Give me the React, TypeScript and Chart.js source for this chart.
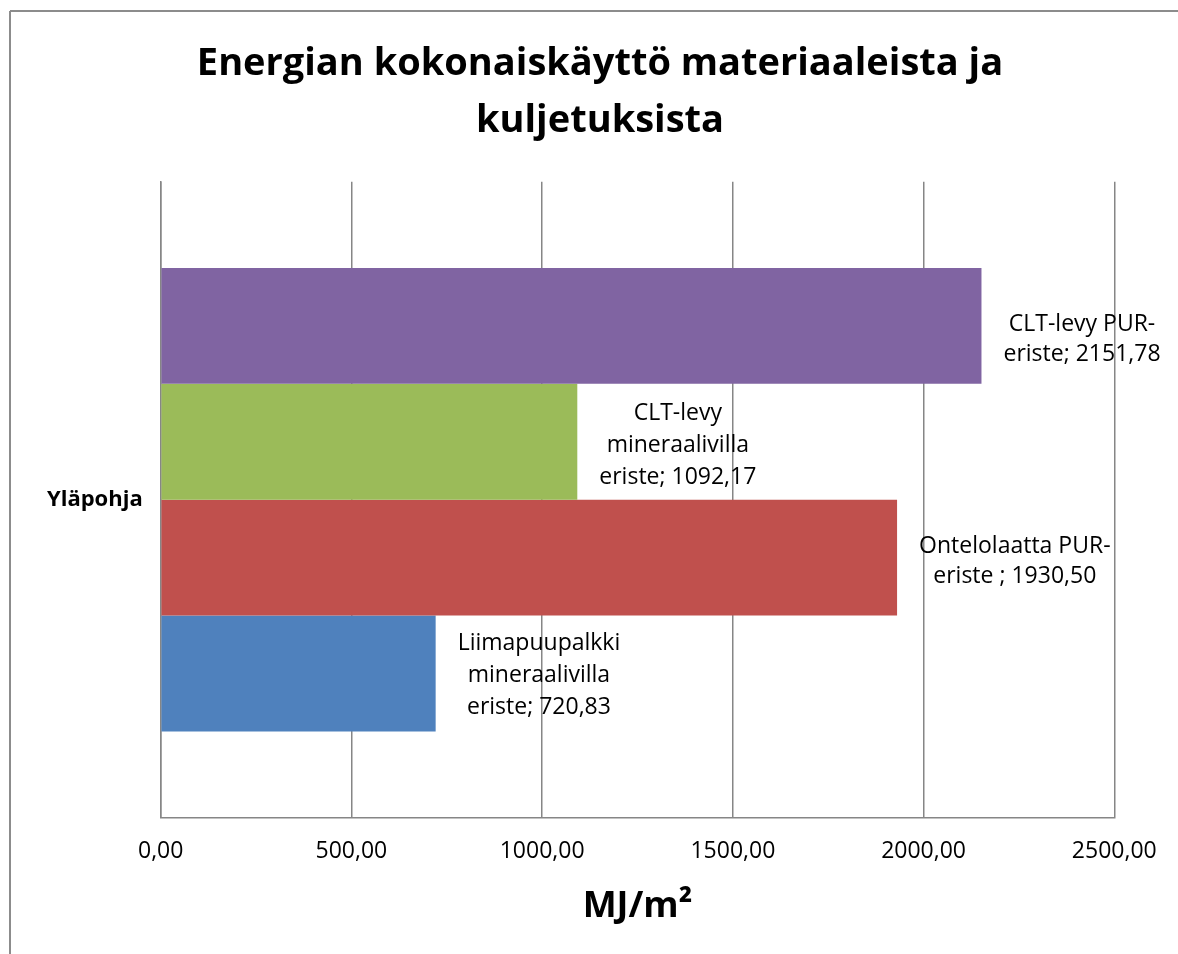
import { useEffect, useRef } from "react";
import { Chart, registerables } from "chart.js";

Chart.register(...registerables);

const FONT = "'Open Sans', sans-serif";

const TITLE_LINES = ["Energian kokonaiskäyttö materiaaleista ja", "kuljetuksista"];
const X_TITLE = "MJ/m²";
const CATEGORIES = ["Yläpohja"];
// top to bottom as drawn
const SERIES_NAMES = [
  "CLT-levy PUR-eriste",
  "CLT-levy mineraalivilla eriste",
  "Ontelolaatta PUR-eriste ",
  "Liimapuupalkki mineraalivilla eriste",
];
const SERIES_VALUES = [2151.78, 1092.17, 1930.5, 720.83];
const SERIES_COLORS = ["#8064A2", "#9BBB59", "#C0504D", "#4F81BD"];
const LABEL_HEAD = [
  ["CLT-levy PUR-"],
  ["CLT-levy", "mineraalivilla"],
  ["Ontelolaatta PUR-"],
  ["Liimapuupalkki", "mineraalivilla"],
];
const LABEL_TAIL = ["eriste; ", "eriste; ", "eriste ; ", "eriste; "];
const X_TICKS = [0, 500, 1000, 1500, 2000, 2500];

// label styling (vertical nudge per label, line spacing)
const LABEL_DY = [14, 4, 4, 2];

const fmt = (v: number) => v.toFixed(2).replace(".", ",");

const framePlugin = {
  id: "frame",
  beforeDraw(chart: any) {
    const ctx = chart.ctx;
    ctx.save();
    ctx.fillStyle = "#ffffff";
    ctx.fillRect(0, 0, chart.width, chart.height);
    ctx.strokeStyle = "#8c8c8c";
    ctx.lineWidth = 2;
    ctx.beginPath();
    ctx.moveTo(10, 11);
    ctx.lineTo(chart.width, 11);
    ctx.moveTo(10, 11);
    ctx.lineTo(10, chart.height);
    ctx.stroke();
    ctx.restore();
  },
};

const labelPlugin = {
  id: "barLabels",
  afterDatasetsDraw(chart: any) {
    const ctx = chart.ctx;
    ctx.save();
    ctx.font = `23px ${FONT}`;
    ctx.fillStyle = "#000";
    ctx.textAlign = "center";
    ctx.textBaseline = "middle";
    chart.data.datasets.forEach((ds: any, i: number) => {
      const meta = chart.getDatasetMeta(i);
      const el = meta.data[0];
      if (!el) return;
      const lines = [...LABEL_HEAD[i], LABEL_TAIL[i] + fmt(ds.data[0])];
      const lh = lines.length > 2 ? 32 : 30;
      const maxW = Math.max(...lines.map((l) => ctx.measureText(l).width));
      const cx = el.x + 22 + maxW / 2;
      const y0 = el.y + LABEL_DY[i] - ((lines.length - 1) * lh) / 2;
      lines.forEach((l, k) => ctx.fillText(l, cx, y0 + k * lh));
    });
    ctx.restore();
  },
};

export default function App() {
  const ref = useRef<HTMLCanvasElement | null>(null);
  useEffect(() => {
    if (!ref.current) return;
    const chart = new Chart(ref.current, {
      type: "bar",
      data: {
        labels: CATEGORIES,
        datasets: SERIES_NAMES.map((name, i) => ({
          label: name,
          data: [SERIES_VALUES[i]],
          backgroundColor: SERIES_COLORS[i],
          borderWidth: 0,
          categoryPercentage: 0.7286,
          barPercentage: 1,
        })),
      },
      options: {
        indexAxis: "y",
        responsive: false,
        animation: false,
        devicePixelRatio: 1,
        layout: { padding: { left: 40, right: 18, top: 36, bottom: 0 } },
        plugins: {
          legend: { display: false },
          tooltip: { enabled: false },
          title: {
            display: true,
            text: TITLE_LINES,
            color: "#000",
            font: { family: FONT, size: 38, weight: "bold", lineHeight: 1.5 },
            padding: { top: 0, bottom: 31.7 },
          },
        },
        scales: {
          x: {
            type: "linear",
            position: "bottom",
            min: 0,
            max: 2500,
            afterBuildTicks: (s: any) => {
              s.ticks = X_TICKS.map((v) => ({ value: v }));
            },
            afterFit: (s: any) => {
              s.height = 136.3;
            },
            ticks: {
              callback: (v: any) => fmt(Number(v)),
              color: "#000",
              font: { family: FONT, size: 23 },
              padding: 20,
              maxRotation: 0,
              autoSkip: false,
            },
            grid: { color: "#868686", lineWidth: 1.5, drawTicks: false },
            border: { color: "#868686", width: 1.5 },
            title: {
              display: true,
              text: X_TITLE,
              color: "#000",
              font: { family: FONT, size: 36, weight: "bold" },
              padding: { top: 0, bottom: 26 },
            },
          },
          y: {
            type: "category",
            position: "left",
            afterFit: (s: any) => {
              s.width = 120.7;
            },
            grid: { display: false, drawTicks: false },
            border: { color: "#868686", width: 1.5 },
            ticks: {
              color: "#000",
              font: { family: FONT, size: 22, weight: "bold" },
              padding: 18,
            },
          },
          spacer: {
            type: "linear",
            position: "right",
            display: true,
            afterFit: (s: any) => {
              s.width = 45.7;
            },
            grid: { display: false, drawTicks: false },
            border: { display: false },
            ticks: { display: false },
          },
        },
      },
      plugins: [framePlugin, labelPlugin],
    } as any);
    return () => chart.destroy();
  }, []);
  return (
    <div style={{ position: "fixed", left: 0, top: 0, width: 1178, height: 954, background: "#fff" }}>
      <canvas ref={ref} width={1178} height={954} style={{ display: "block" }} />
    </div>
  );
}
